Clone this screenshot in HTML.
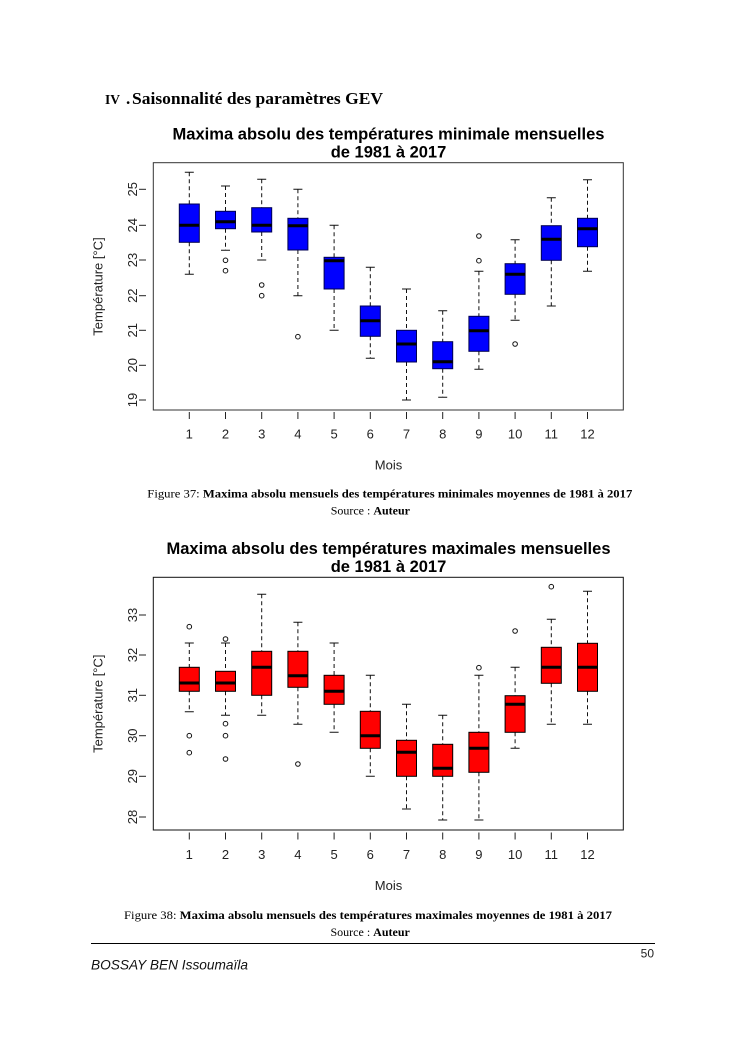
<!DOCTYPE html>
<html>
<head>
<meta charset="utf-8">
<style>
  html,body{margin:0;padding:0;background:#fff;}
  svg{display:block;}
  .ax{font-family:"Liberation Sans",Arial,sans-serif;font-size:13px;fill:#222;}
  .ttl{font-family:"Liberation Sans",Arial,sans-serif;font-size:16.5px;font-weight:bold;fill:#000;}
  .ser{font-family:"Liberation Serif","Times New Roman",serif;fill:#000;}
  .wh{stroke:#111;stroke-width:1;stroke-dasharray:4,3;fill:none;}
  .cap{stroke:#111;stroke-width:1;fill:none;}
  .med{stroke:#000;stroke-width:3;fill:none;}
  .out{stroke:#111;stroke-width:1;fill:none;}
  .bb{fill:#0000ff;stroke:#000050;stroke-width:1;}
  .rb{fill:#ff0000;stroke:#000;stroke-width:1;}
</style>
</head>
<body>
<svg width="745" height="1053" viewBox="0 0 745 1053" xmlns="http://www.w3.org/2000/svg">
  <rect x="0" y="0" width="745" height="1053" fill="#fff"/>

  <!-- Heading -->
  <text class="ser" x="105" y="104" font-size="13.5" font-weight="bold">IV</text>
  <text class="ser" x="126" y="104" font-size="17" font-weight="bold">.</text>
  <text class="ser" x="132" y="104" font-size="17" font-weight="bold" textLength="251" lengthAdjust="spacingAndGlyphs">Saisonnalité des paramètres GEV</text>

  <!-- ================= TOP CHART ================= -->
  <text class="ttl" x="388.5" y="139.5" text-anchor="middle" textLength="432" lengthAdjust="spacingAndGlyphs">Maxima absolu des températures minimale mensuelles</text>
  <text class="ttl" x="388.5" y="157.5" text-anchor="middle">de 1981 à 2017</text>

  <!-- y ticks -->
  <g stroke="#222" stroke-width="1">
    <line x1="139" y1="400" x2="146" y2="400"/>
    <line x1="139" y1="365.3" x2="146" y2="365.3"/>
    <line x1="139" y1="330.3" x2="146" y2="330.3"/>
    <line x1="139" y1="295.7" x2="146" y2="295.7"/>
    <line x1="139" y1="260" x2="146" y2="260"/>
    <line x1="139" y1="225.3" x2="146" y2="225.3"/>
    <line x1="139" y1="189.3" x2="146" y2="189.3"/>
  </g>
  <g class="ax" text-anchor="middle">
    <text transform="translate(137,400) rotate(-90)">19</text>
    <text transform="translate(137,365.3) rotate(-90)">20</text>
    <text transform="translate(137,330.3) rotate(-90)">21</text>
    <text transform="translate(137,295.7) rotate(-90)">22</text>
    <text transform="translate(137,260) rotate(-90)">23</text>
    <text transform="translate(137,225.3) rotate(-90)">24</text>
    <text transform="translate(137,189.3) rotate(-90)">25</text>
    <text transform="translate(102.5,286.5) rotate(-90)">Température [°C]</text>
  </g>

  <!-- x ticks -->
  <g stroke="#222" stroke-width="1">
    <line x1="189.3" y1="412" x2="189.3" y2="419"/>
    <line x1="225.5" y1="412" x2="225.5" y2="419"/>
    <line x1="261.7" y1="412" x2="261.7" y2="419"/>
    <line x1="297.9" y1="412" x2="297.9" y2="419"/>
    <line x1="334.1" y1="412" x2="334.1" y2="419"/>
    <line x1="370.3" y1="412" x2="370.3" y2="419"/>
    <line x1="406.5" y1="412" x2="406.5" y2="419"/>
    <line x1="442.7" y1="412" x2="442.7" y2="419"/>
    <line x1="478.9" y1="412" x2="478.9" y2="419"/>
    <line x1="515.1" y1="412" x2="515.1" y2="419"/>
    <line x1="551.3" y1="412" x2="551.3" y2="419"/>
    <line x1="587.5" y1="412" x2="587.5" y2="419"/>
  </g>
  <g class="ax" text-anchor="middle">
    <text x="189.3" y="438.3">1</text>
    <text x="225.5" y="438.3">2</text>
    <text x="261.7" y="438.3">3</text>
    <text x="297.9" y="438.3">4</text>
    <text x="334.1" y="438.3">5</text>
    <text x="370.3" y="438.3">6</text>
    <text x="406.5" y="438.3">7</text>
    <text x="442.7" y="438.3">8</text>
    <text x="478.9" y="438.3">9</text>
    <text x="515.1" y="438.3">10</text>
    <text x="551.3" y="438.3">11</text>
    <text x="587.5" y="438.3">12</text>
    <text x="388.5" y="469.3">Mois</text>
  </g>

  <!-- top boxes -->
  <g transform="translate(189.3,0)">
    <path class="wh" d="M0 172.3 V204 M0 242.3 V274.3"/>
    <path class="cap" d="M-4.5 172.3 h9 M-4.5 274.3 h9"/>
    <rect class="bb" x="-10" y="204" width="20" height="38.3"/>
    <path class="med" d="M-10 225.3 h20"/>
  </g>
  <g transform="translate(225.5,0)">
    <path class="wh" d="M0 186 V211.3 M0 228.7 V250.3"/>
    <path class="cap" d="M-4.5 186 h9 M-4.5 250.3 h9"/>
    <rect class="bb" x="-10" y="211.3" width="20" height="17.4"/>
    <path class="med" d="M-10 221.8 h20"/>
    <circle class="out" cx="0" cy="260.3" r="2.3"/>
    <circle class="out" cx="0" cy="270.7" r="2.3"/>
  </g>
  <g transform="translate(261.7,0)">
    <path class="wh" d="M0 179.3 V207.7 M0 232 V260"/>
    <path class="cap" d="M-4.5 179.3 h9 M-4.5 260 h9"/>
    <rect class="bb" x="-10" y="207.7" width="20" height="24.3"/>
    <path class="med" d="M-10 225.3 h20"/>
    <circle class="out" cx="0" cy="285" r="2.3"/>
    <circle class="out" cx="0" cy="295.7" r="2.3"/>
  </g>
  <g transform="translate(297.9,0)">
    <path class="wh" d="M0 189.3 V218.3 M0 250 V295.7"/>
    <path class="cap" d="M-4.5 189.3 h9 M-4.5 295.7 h9"/>
    <rect class="bb" x="-10" y="218.3" width="20" height="31.7"/>
    <path class="med" d="M-10 225.7 h20"/>
    <circle class="out" cx="0" cy="336.7" r="2.3"/>
  </g>
  <g transform="translate(334.1,0)">
    <path class="wh" d="M0 225.3 V257.3 M0 289 V330.3"/>
    <path class="cap" d="M-4.5 225.3 h9 M-4.5 330.3 h9"/>
    <rect class="bb" x="-10" y="257.3" width="20" height="31.7"/>
    <path class="med" d="M-10 260.7 h20"/>
  </g>
  <g transform="translate(370.3,0)">
    <path class="wh" d="M0 267.3 V306 M0 336.3 V358.3"/>
    <path class="cap" d="M-4.5 267.3 h9 M-4.5 358.3 h9"/>
    <rect class="bb" x="-10" y="306" width="20" height="30.3"/>
    <path class="med" d="M-10 320.7 h20"/>
  </g>
  <g transform="translate(406.5,0)">
    <path class="wh" d="M0 289 V330.3 M0 362 V400"/>
    <path class="cap" d="M-4.5 289 h9 M-4.5 400 h9"/>
    <rect class="bb" x="-10" y="330.3" width="20" height="31.7"/>
    <path class="med" d="M-10 344 h20"/>
  </g>
  <g transform="translate(442.7,0)">
    <path class="wh" d="M0 310.7 V341.7 M0 368.7 V397.3"/>
    <path class="cap" d="M-4.5 310.7 h9 M-4.5 397.3 h9"/>
    <rect class="bb" x="-10" y="341.7" width="20" height="27"/>
    <path class="med" d="M-10 361.7 h20"/>
  </g>
  <g transform="translate(478.9,0)">
    <path class="wh" d="M0 271.3 V316.3 M0 351.3 V369.3"/>
    <path class="cap" d="M-4.5 271.3 h9 M-4.5 369.3 h9"/>
    <rect class="bb" x="-10" y="316.3" width="20" height="35"/>
    <path class="med" d="M-10 330.7 h20"/>
    <circle class="out" cx="0" cy="236" r="2.3"/>
    <circle class="out" cx="0" cy="260.7" r="2.3"/>
  </g>
  <g transform="translate(515.1,0)">
    <path class="wh" d="M0 239.7 V263.7 M0 294.3 V320.3"/>
    <path class="cap" d="M-4.5 239.7 h9 M-4.5 320.3 h9"/>
    <rect class="bb" x="-10" y="263.7" width="20" height="30.6"/>
    <path class="med" d="M-10 274.3 h20"/>
    <circle class="out" cx="0" cy="344" r="2.3"/>
  </g>
  <g transform="translate(551.3,0)">
    <path class="wh" d="M0 197.7 V225.7 M0 260.3 V306"/>
    <path class="cap" d="M-4.5 197.7 h9 M-4.5 306 h9"/>
    <rect class="bb" x="-10" y="225.7" width="20" height="34.6"/>
    <path class="med" d="M-10 239.3 h20"/>
  </g>
  <g transform="translate(587.5,0)">
    <path class="wh" d="M0 179.7 V218.3 M0 246.7 V271.3"/>
    <path class="cap" d="M-4.5 179.7 h9 M-4.5 271.3 h9"/>
    <rect class="bb" x="-10" y="218.3" width="20" height="28.4"/>
    <path class="med" d="M-10 228.7 h20"/>
  </g>

  <rect x="153.3" y="162.7" width="470" height="247.3" fill="none" stroke="#333" stroke-width="1"/>

  <!-- caption 37 -->
  <text class="ser" x="147.3" y="497.3" font-size="12" textLength="485" lengthAdjust="spacingAndGlyphs">Figure 37: <tspan font-weight="bold">Maxima absolu mensuels des températures minimales  moyennes  de 1981 à 2017</tspan></text>
  <text class="ser" x="330.7" y="514.3" font-size="12">Source : <tspan font-weight="bold">Auteur</tspan></text>

  <!-- ================= BOTTOM CHART ================= -->
  <text class="ttl" x="388.5" y="554" text-anchor="middle" textLength="444" lengthAdjust="spacingAndGlyphs">Maxima absolu des températures maximales mensuelles</text>
  <text class="ttl" x="388.5" y="572" text-anchor="middle">de 1981 à 2017</text>

  <g stroke="#222" stroke-width="1">
    <line x1="139" y1="615" x2="146" y2="615"/>
    <line x1="139" y1="655" x2="146" y2="655"/>
    <line x1="139" y1="695.3" x2="146" y2="695.3"/>
    <line x1="139" y1="735.7" x2="146" y2="735.7"/>
    <line x1="139" y1="776.3" x2="146" y2="776.3"/>
    <line x1="139" y1="817" x2="146" y2="817"/>
  </g>
  <g class="ax" text-anchor="middle">
    <text transform="translate(137,615) rotate(-90)">33</text>
    <text transform="translate(137,655) rotate(-90)">32</text>
    <text transform="translate(137,695.3) rotate(-90)">31</text>
    <text transform="translate(137,735.7) rotate(-90)">30</text>
    <text transform="translate(137,776.3) rotate(-90)">29</text>
    <text transform="translate(137,817) rotate(-90)">28</text>
    <text transform="translate(102.5,703.7) rotate(-90)">Température [°C]</text>
  </g>

  <g stroke="#222" stroke-width="1">
    <line x1="189.3" y1="832.5" x2="189.3" y2="839.5"/>
    <line x1="225.5" y1="832.5" x2="225.5" y2="839.5"/>
    <line x1="261.7" y1="832.5" x2="261.7" y2="839.5"/>
    <line x1="297.9" y1="832.5" x2="297.9" y2="839.5"/>
    <line x1="334.1" y1="832.5" x2="334.1" y2="839.5"/>
    <line x1="370.3" y1="832.5" x2="370.3" y2="839.5"/>
    <line x1="406.5" y1="832.5" x2="406.5" y2="839.5"/>
    <line x1="442.7" y1="832.5" x2="442.7" y2="839.5"/>
    <line x1="478.9" y1="832.5" x2="478.9" y2="839.5"/>
    <line x1="515.1" y1="832.5" x2="515.1" y2="839.5"/>
    <line x1="551.3" y1="832.5" x2="551.3" y2="839.5"/>
    <line x1="587.5" y1="832.5" x2="587.5" y2="839.5"/>
  </g>
  <g class="ax" text-anchor="middle">
    <text x="189.3" y="859">1</text>
    <text x="225.5" y="859">2</text>
    <text x="261.7" y="859">3</text>
    <text x="297.9" y="859">4</text>
    <text x="334.1" y="859">5</text>
    <text x="370.3" y="859">6</text>
    <text x="406.5" y="859">7</text>
    <text x="442.7" y="859">8</text>
    <text x="478.9" y="859">9</text>
    <text x="515.1" y="859">10</text>
    <text x="551.3" y="859">11</text>
    <text x="587.5" y="859">12</text>
    <text x="388.5" y="890">Mois</text>
  </g>

  <!-- bottom boxes -->
  <g transform="translate(189.3,0)">
    <path class="wh" d="M0 643 V667.3 M0 691.3 V711.7"/>
    <path class="cap" d="M-4.5 643 h9 M-4.5 711.7 h9"/>
    <rect class="rb" x="-10" y="667.3" width="20" height="24"/>
    <path class="med" d="M-10 683 h20"/>
    <circle class="out" cx="0" cy="626.7" r="2.3"/>
    <circle class="out" cx="0" cy="735.7" r="2.3"/>
    <circle class="out" cx="0" cy="752.7" r="2.3"/>
  </g>
  <g transform="translate(225.5,0)">
    <path class="wh" d="M0 643 V671.3 M0 691.3 V715.3"/>
    <path class="cap" d="M-4.5 643 h9 M-4.5 715.3 h9"/>
    <rect class="rb" x="-10" y="671.3" width="20" height="20"/>
    <path class="med" d="M-10 683 h20"/>
    <circle class="out" cx="0" cy="639" r="2.3"/>
    <circle class="out" cx="0" cy="723.7" r="2.3"/>
    <circle class="out" cx="0" cy="735.7" r="2.3"/>
    <circle class="out" cx="0" cy="759" r="2.3"/>
  </g>
  <g transform="translate(261.7,0)">
    <path class="wh" d="M0 594.3 V651.3 M0 695.3 V715.3"/>
    <path class="cap" d="M-4.5 594.3 h9 M-4.5 715.3 h9"/>
    <rect class="rb" x="-10" y="651.3" width="20" height="44"/>
    <path class="med" d="M-10 667.3 h20"/>
  </g>
  <g transform="translate(297.9,0)">
    <path class="wh" d="M0 622.3 V651.3 M0 687.3 V724.3"/>
    <path class="cap" d="M-4.5 622.3 h9 M-4.5 724.3 h9"/>
    <rect class="rb" x="-10" y="651.3" width="20" height="36"/>
    <path class="med" d="M-10 675.7 h20"/>
    <circle class="out" cx="0" cy="764" r="2.3"/>
  </g>
  <g transform="translate(334.1,0)">
    <path class="wh" d="M0 643 V675.3 M0 704.3 V732.3"/>
    <path class="cap" d="M-4.5 643 h9 M-4.5 732.3 h9"/>
    <rect class="rb" x="-10" y="675.3" width="20" height="29"/>
    <path class="med" d="M-10 691.3 h20"/>
  </g>
  <g transform="translate(370.3,0)">
    <path class="wh" d="M0 675.3 V711.3 M0 748.3 V776.3"/>
    <path class="cap" d="M-4.5 675.3 h9 M-4.5 776.3 h9"/>
    <rect class="rb" x="-10" y="711.3" width="20" height="37"/>
    <path class="med" d="M-10 735.7 h20"/>
  </g>
  <g transform="translate(406.5,0)">
    <path class="wh" d="M0 704.3 V740.3 M0 776.3 V809"/>
    <path class="cap" d="M-4.5 704.3 h9 M-4.5 809 h9"/>
    <rect class="rb" x="-10" y="740.3" width="20" height="36"/>
    <path class="med" d="M-10 752.3 h20"/>
  </g>
  <g transform="translate(442.7,0)">
    <path class="wh" d="M0 715.3 V744.3 M0 776.3 V820"/>
    <path class="cap" d="M-4.5 715.3 h9 M-4.5 820 h9"/>
    <rect class="rb" x="-10" y="744.3" width="20" height="32"/>
    <path class="med" d="M-10 768.3 h20"/>
  </g>
  <g transform="translate(478.9,0)">
    <path class="wh" d="M0 675.3 V732.3 M0 772.3 V820"/>
    <path class="cap" d="M-4.5 675.3 h9 M-4.5 820 h9"/>
    <rect class="rb" x="-10" y="732.3" width="20" height="40"/>
    <path class="med" d="M-10 748.3 h20"/>
    <circle class="out" cx="0" cy="667.7" r="2.3"/>
  </g>
  <g transform="translate(515.1,0)">
    <path class="wh" d="M0 667.3 V695.7 M0 732.3 V748.3"/>
    <path class="cap" d="M-4.5 667.3 h9 M-4.5 748.3 h9"/>
    <rect class="rb" x="-10" y="695.7" width="20" height="36.6"/>
    <path class="med" d="M-10 704.3 h20"/>
    <circle class="out" cx="0" cy="631" r="2.3"/>
  </g>
  <g transform="translate(551.3,0)">
    <path class="wh" d="M0 619.3 V647.3 M0 683.3 V724.3"/>
    <path class="cap" d="M-4.5 619.3 h9 M-4.5 724.3 h9"/>
    <rect class="rb" x="-10" y="647.3" width="20" height="36"/>
    <path class="med" d="M-10 667.3 h20"/>
    <circle class="out" cx="0" cy="586.7" r="2.3"/>
  </g>
  <g transform="translate(587.5,0)">
    <path class="wh" d="M0 591.3 V643.3 M0 691.3 V724.3"/>
    <path class="cap" d="M-4.5 591.3 h9 M-4.5 724.3 h9"/>
    <rect class="rb" x="-10" y="643.3" width="20" height="48"/>
    <path class="med" d="M-10 667.3 h20"/>
  </g>

  <rect x="153.3" y="577.3" width="470" height="252.7" fill="none" stroke="#111" stroke-width="1"/>

  <!-- caption 38 -->
  <text class="ser" x="124" y="919" font-size="12" textLength="488" lengthAdjust="spacingAndGlyphs">Figure 38: <tspan font-weight="bold">Maxima absolu mensuels des températures maximales  moyennes  de 1981 à 2017</tspan></text>
  <text class="ser" x="330.5" y="936" font-size="12">Source : <tspan font-weight="bold">Auteur</tspan></text>

  <!-- footer -->
  <line x1="91" y1="943.5" x2="655" y2="943.5" stroke="#000" stroke-width="1"/>
  <text x="654" y="957.5" text-anchor="end" font-family="Liberation Sans, Arial, sans-serif" font-size="12" fill="#222">50</text>
  <text x="91" y="969.3" font-family="Liberation Sans, Arial, sans-serif" font-size="13.6" font-style="italic" fill="#111" textLength="157" lengthAdjust="spacingAndGlyphs">BOSSAY BEN Issoumaïla</text>
</svg>
</body>
</html>
